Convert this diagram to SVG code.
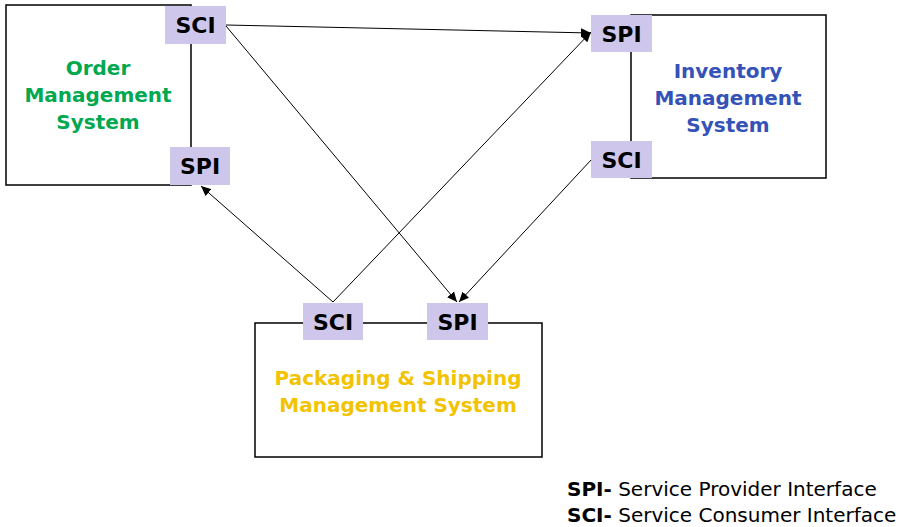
<svg xmlns="http://www.w3.org/2000/svg" width="901" height="527" viewBox="0 0 901 527">
<style>
.box{fill:#fff;stroke:#000;stroke-width:1.5}
.tag{fill:#cfc6ec}
.tagt{font-family:"DejaVu Sans",Verdana,sans-serif;font-weight:bold;font-size:22px;fill:#000;text-anchor:middle}
.title{font-family:"DejaVu Sans",Verdana,sans-serif;font-weight:bold;font-size:20px;text-anchor:middle}
.edge{stroke:#000;stroke-width:1;fill:none;marker-end:url(#ah)}
.leg{font-family:"DejaVu Sans",Verdana,sans-serif;font-size:20px;fill:#000}
</style>
<defs>
<marker id="ah" viewBox="0 0 10 10" refX="10" refY="5" markerWidth="10" markerHeight="10" markerUnits="userSpaceOnUse" orient="auto">
<path d="M0,0.5 L10,5 L0,9.5 z" fill="#000"/>
</marker>
</defs>
<g id="order">
<rect class="box" x="6" y="5" width="185" height="180"/>
<text class="title" fill="#00a84f" x="98"><tspan x="98" y="75">Order</tspan><tspan x="98" y="102">Management</tspan><tspan x="98" y="129">System</tspan></text>
<rect class="tag" x="165" y="6" width="61" height="38"/><text class="tagt" x="195.5" y="33">SCI</text>
<rect class="tag" x="170" y="147" width="60" height="38"/><text class="tagt" x="200" y="174">SPI</text>
</g>
<g id="inventory">
<rect class="box" x="631" y="15" width="195" height="163"/>
<text class="title" fill="#3452b8" x="728"><tspan x="728" y="78">Inventory</tspan><tspan x="728" y="105">Management</tspan><tspan x="728" y="132">System</tspan></text>
<rect class="tag" x="591" y="15" width="61" height="37"/><text class="tagt" x="621.5" y="42">SPI</text>
<rect class="tag" x="591" y="141" width="61" height="37"/><text class="tagt" x="621.5" y="168">SCI</text>
</g>
<g id="packaging">
<rect class="box" x="255" y="323" width="287" height="134"/>
<text class="title" fill="#f2c300" x="398"><tspan x="398" y="385">Packaging &amp; Shipping</tspan><tspan x="398" y="412">Management System</tspan></text>
<rect class="tag" x="303" y="303" width="60" height="37"/><text class="tagt" x="333" y="330">SCI</text>
<rect class="tag" x="427" y="303" width="61" height="37"/><text class="tagt" x="457.5" y="330">SPI</text>
</g>
<g id="connectors">
<line class="edge" x1="226" y1="25" x2="591" y2="33"/>
<line class="edge" x1="226" y1="26" x2="457" y2="302"/>
<line class="edge" x1="333" y1="302" x2="201" y2="186"/>
<line class="edge" x1="333" y1="302" x2="591" y2="32"/>
<line class="edge" x1="591" y1="160" x2="459" y2="302"/>
</g>
<g id="legend">
<text class="leg" x="567" y="496"><tspan font-weight="bold">SPI-</tspan> Service Provider Interface</text>
<text class="leg" x="567" y="522"><tspan font-weight="bold">SCI-</tspan> Service Consumer Interface</text>
</g>
</svg>
